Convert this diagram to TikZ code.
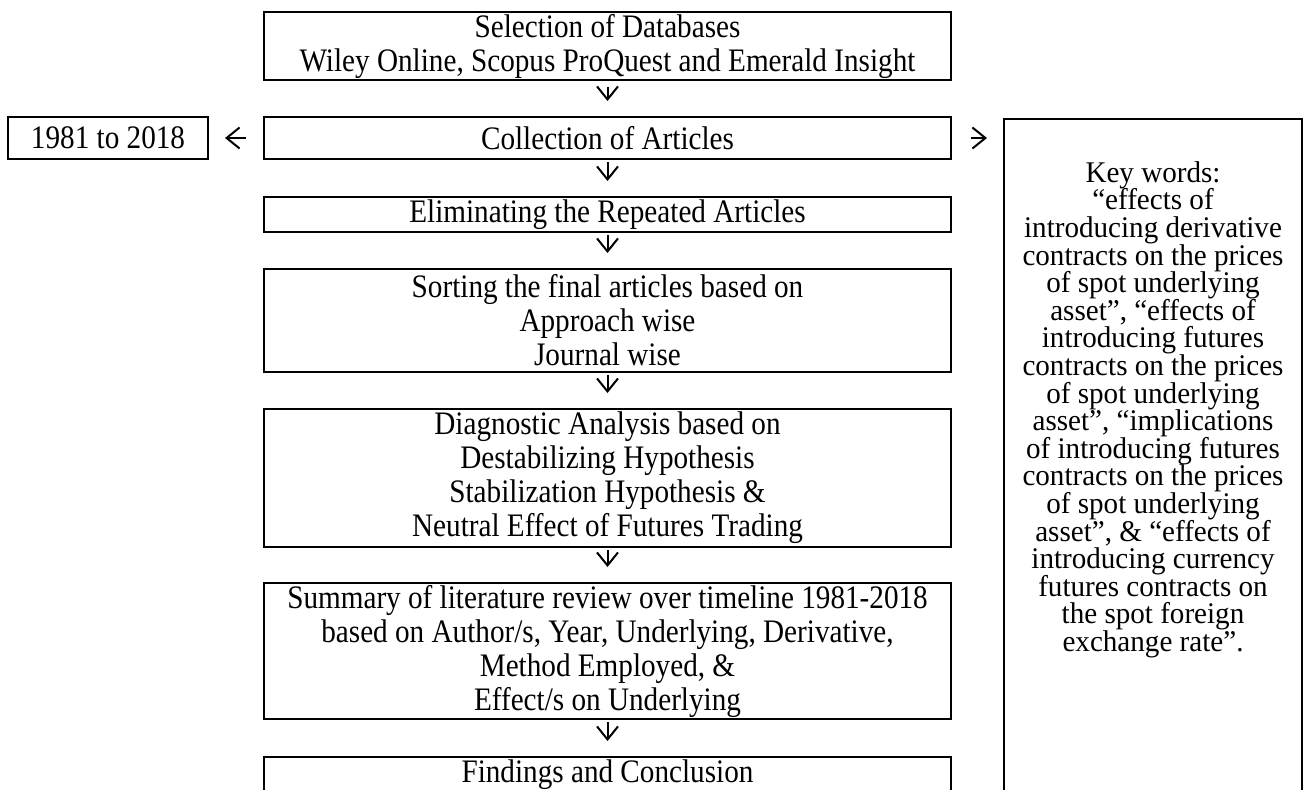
\documentclass[tikz,border=0pt]{standalone}
\usepackage{fontspec}
\setmainfont[FakeStretch=0.89]{Liberation Serif}
\newfontfamily\kwfont[FakeStretch=0.97]{Liberation Serif}
\newcommand{\kwsize}{\kwfont\fontsize{15}{13.8}\selectfont\lineskiplimit=-20pt\relax}
\usetikzlibrary{arrows.meta,positioning}

\begin{document}
\begin{tikzpicture}[x=0.5pt, y=-0.5pt,
    box/.style={draw, line width=1pt, minimum width=343.5pt, inner sep=0pt, align=center, font=\fontsize{16.4}{17}\selectfont},
    kwtext/.style={inner sep=0pt, align=center, font=\kwsize},
    arrow/.style={line width=1pt, -{Straight Barb[length=6.5pt, width=10.5pt]}, shorten <=1pt, shorten >=7.5pt}]

        \path[use as bounding box, clip] (0,0) rectangle (1304,789);

        % main column
        \node[box, minimum height=34pt] (db) at (607.5,46) {Selection of Databases\\Wiley Online, Scopus ProQuest and Emerald Insight};
        \node[box, minimum height=21pt] (coll) at (607.5,138) {Collection of Articles};
        \node[box, minimum height=17.5pt] (elim) at (607.5,214.5) {Eliminating the Repeated Articles};
        \node[box, minimum height=51.5pt] (sort) at (607.5,320.5) {Sorting the final articles based on\\Approach wise\\Journal wise};
        \node[box, minimum height=69pt] (diag) at (607.5,478) {Diagnostic Analysis based on\\Destabilizing Hypothesis\\Stabilization Hypothesis \&\\Neutral Effect of Futures Trading};
        \node[box, minimum height=68pt] (summ) at (607.5,651) {Summary of literature review over timeline 1981-2018\\based on Author/s, Year, Underlying, Derivative,\\Method Employed, \&\\Effect/s on Underlying};
        \node[box, minimum height=18pt] (find) at (607.5,775) {Findings and Conclusion};

        % period
        \node[box, minimum width=100pt, minimum height=21pt] (yrs) at (108,138) {1981 to 2018};

        % key words
        \node[draw, line width=1pt, minimum width=149pt, minimum height=400pt, anchor=north] (kw) at (1153,118) {};
        \node[kwtext, below=21.5pt of kw.north] (kwt) {Key words:\\“effects of\\introducing derivative\\contracts on the prices\\of spot underlying\\asset”, “effects of\\introducing futures\\contracts on the prices\\of spot underlying\\asset”, “implications\\of introducing futures\\contracts on the prices\\of spot underlying\\asset”, \& “effects of\\introducing currency\\futures contracts on\\the spot foreign\\exchange rate”.};

        % Arrows
        \draw[arrow, shorten <=3pt] (db) -- (coll);
        \draw[arrow] (coll) -- (elim);
        \draw[arrow] (elim) -- (sort);
        \draw[arrow] (sort) -- (diag);
        \draw[arrow] (diag) -- (summ);
        \draw[arrow] (summ) -- (find);
        \draw[arrow, shorten <=8.5pt, shorten >=8pt] (coll) -- (yrs);
        \draw[arrow, shorten <=9.5pt, shorten >=8pt] (coll.east) -- (coll.east -| kw.west);

    \end{tikzpicture}
\end{document}
